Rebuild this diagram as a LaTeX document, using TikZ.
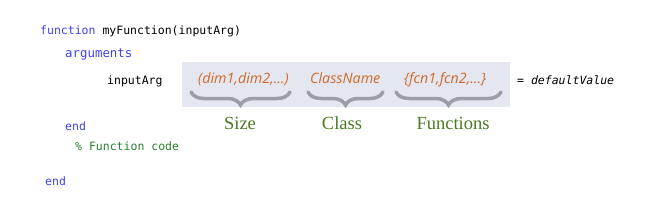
\documentclass[tikz,border=0pt]{standalone}
\usepackage{fontspec}
\usetikzlibrary{decorations.pathreplacing}
\newfontfamily\codefont{DejaVu Sans Mono}
\newfontfamily\argfont{Open Sans}
\newfontfamily\labfont{Liberation Serif}
\definecolor{kw}{HTML}{3F3FF0}
\definecolor{cmt}{HTML}{2A802A}
\definecolor{org}{HTML}{D0692A}
\definecolor{lab}{HTML}{4A7A23}
\definecolor{boxbg}{HTML}{E4E7EF}
\definecolor{brc}{HTML}{9A9EA6}
\tikzset{
  code/.style={inner sep=0pt, anchor=base west, font=\codefont\fontsize{11.5}{13}\selectfont},
  argt/.style={inner sep=0pt, anchor=base west, text=org, font=\argfont\itshape\fontsize{14.3}{16}\selectfont},
  labt/.style={inner sep=0pt, anchor=base, text=lab, font=\labfont\fontsize{18.5}{20}\selectfont},
  brace/.style={draw=brc, line width=3.5pt, line cap=round, decorate, decoration={brace, mirror, amplitude=13pt}}
}
\begin{document}
\begin{tikzpicture}[x=1pt,y=-1pt]
\useasboundingbox (0,0) rectangle (648,210);
\fill[boxbg] (182,62) rectangle (510,107);
\node[code] (fn) at (40,34) {\textcolor{kw}{function} myFunction(inputArg)};
\node[code, text=kw, font=\codefont\fontsize{12.4}{14}\selectfont] (args) at (65,57) {arguments};
\node[code] (ia) at (107,84) {inputArg};
\node[argt] (sz) at (198,83) {(dim1,dim2,...)};
\node[argt] (cl) at (310,83) {ClassName};
\node[argt] (fc) at (404,83) {\{fcn1,fcn2,...\}};
\node[code] (dv) at (517,84) {= \textit{defaultValue}};
\draw[brace] (191,92) -- (290,92);
\draw[brace] (308,92) -- (383,92);
\draw[brace] (396,92) -- (501,92);
\node[labt] (lsz) at (240,129) {Size};
\node[labt] (lcl) at (342,129) {Class};
\node[labt] (lfc) at (453,129) {Functions};
\node[code, text=kw] (e1) at (65,130) {end};
\node[code, text=cmt] (cm) at (75,150) {\% Function code};
\node[code, text=kw] (e2) at (45,185) {end};
\end{tikzpicture}
\end{document}
